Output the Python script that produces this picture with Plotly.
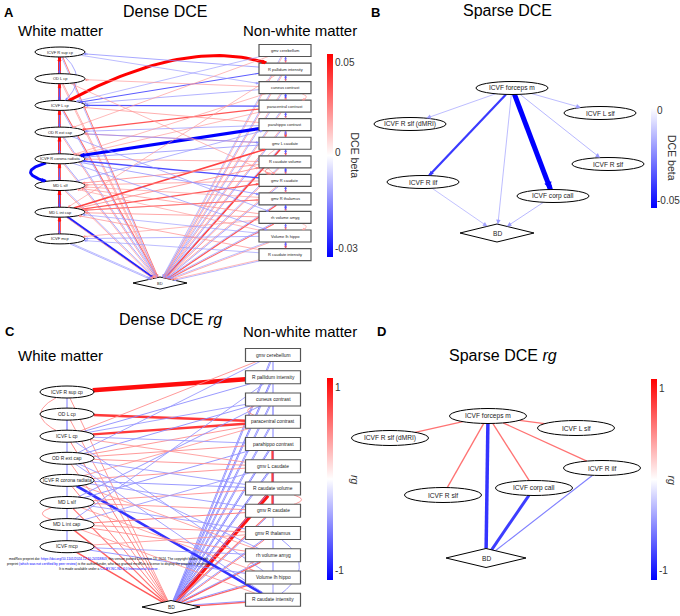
import math
import plotly.graph_objects as go

FIG_W, FIG_H = 680, 616

# ======================= DATA =======================
wm_nodes = ["ICVF R sup cp", "OD L cp", "ICVF L cp", "OD R ext cap",
            "ICVF R corona radiata", "MD L slf", "MD L int cap", "ICVF mcp"]
nwm_nodes = ["gmv cerebellum", "R pallidum intensity", "cuneus contrast",
             "paracentral contrast", "parahippo contrast", "gmv L caudate",
             "R caudate volume", "gmv R caudate", "gmv R thalamus",
             "rh volume amyg", "Volume lh hippo", "R caudate intensity"]
outcome_node = "BD"
sparse_nodes = ["ICVF forceps m", "ICVF R slf (dMRI)", "ICVF L slf",
                "ICVF R slf", "ICVF R ilf", "ICVF corp call"]

# colour-bar tick labels
cbar_ticks_dense_dce = ["0.05", "0", "-0.03"]
cbar_ticks_sparse_dce = ["0", "-0.05"]
cbar_ticks_rg = ["1", "-1"]

# ---- Panel A: Dense DCE (directed, DCE beta) ----
dce_wm_chain_up_beta = [0.052, 0.050, 0.050, 0.052, 0.050, 0.052, 0.050]
dce_wm_chain_down_beta = [-0.020, -0.022, -0.020, -0.018, -0.020, -0.022, -0.020]
dce_nwm_chain_down_beta = [0.030, 0.028, 0.030, 0.026, 0.040, 0.034, 0.030, 0.028, 0.026, 0.030, 0.036]
dce_nwm_chain_up_beta = [-0.018, -0.020, -0.022, -0.020, -0.018, -0.020, -0.022, -0.020, -0.022, -0.018, -0.020]
dce_wm_to_bd_beta = [0.030, 0.024, 0.032, -0.014, -0.015, -0.014, -0.028, -0.013]
dce_wm_to_bd_beta_2 = [-0.013, 0.022, -0.014, 0.024, 0.022, 0.024, 0.022, -0.014]
dce_nwm_to_bd_beta = [0.022, 0.024, -0.014, 0.024, -0.015, 0.040, 0.026, -0.015, 0.036, 0.032, 0.024, -0.014]
dce_nwm_to_bd_beta_2 = [-0.013, -0.014, 0.022, -0.014, 0.024, -0.013, -0.014, 0.024, -0.013, -0.014, -0.013, 0.022]

dce_cross_from = [
    "ICVF L cp", "R pallidum intensity", "R pallidum intensity", "paracentral contrast",
    "paracentral contrast", "parahippo contrast", "gmv R caudate", "MD L int cap",
    "MD L int cap", "MD L int cap", "MD L int cap", "cuneus contrast",
    "gmv cerebellum", "cuneus contrast", "parahippo contrast", "gmv L caudate",
    "R caudate volume", "gmv R thalamus", "rh volume amyg", "Volume lh hippo",
    "R caudate intensity", "gmv R caudate", "gmv R thalamus", "rh volume amyg",
    "paracentral contrast", "parahippo contrast", "gmv L caudate", "R caudate volume",
    "rh volume amyg", "Volume lh hippo", "cuneus contrast", "MD L slf",
    "OD R ext cap", "OD L cp", "ICVF R corona radiata", "OD R ext cap",
    "ICVF R corona radiata", "ICVF R sup cp", "gmv cerebellum", "R pallidum intensity",
    "Volume lh hippo", "R caudate intensity"]
dce_cross_to = [
    "R pallidum intensity", "ICVF L cp", "ICVF R sup cp", "ICVF L cp",
    "OD R ext cap", "ICVF R corona radiata", "ICVF R corona radiata", "gmv L caudate",
    "gmv R caudate", "R caudate volume", "gmv R thalamus", "ICVF L cp",
    "ICVF L cp", "OD L cp", "ICVF L cp", "OD R ext cap",
    "MD L slf", "MD L int cap", "MD L int cap", "ICVF mcp",
    "ICVF mcp", "MD L slf", "MD L slf", "MD L slf",
    "ICVF R corona radiata", "OD R ext cap", "ICVF R corona radiata", "ICVF R corona radiata",
    "ICVF mcp", "MD L int cap", "ICVF R corona radiata", "parahippo contrast",
    "gmv L caudate", "gmv R caudate", "gmv R thalamus", "rh volume amyg",
    "Volume lh hippo", "cuneus contrast", "OD R ext cap", "MD L int cap",
    "MD L slf", "MD L int cap"]
dce_cross_beta = [
    0.054, -0.021, -0.015, -0.022,
    0.036, -0.033, -0.023, 0.040,
    0.036, 0.026, 0.024, -0.014,
    -0.013, 0.022, 0.024, 0.024,
    0.026, 0.030, 0.025, -0.014,
    -0.013, 0.024, 0.022, 0.024,
    0.022, -0.014, -0.015, 0.024,
    0.022, -0.013, 0.022, -0.014,
    -0.015, 0.022, -0.015, -0.014,
    -0.014, -0.013, 0.022, 0.022,
    0.022, 0.024]

dce_loop_from = ["ICVF R corona radiata", "ICVF R sup cp", "cuneus contrast",
                 "R caudate volume", "rh volume amyg", "gmv L caudate"]
dce_loop_to = ["MD L slf", "ICVF L cp", "paracentral contrast",
               "gmv R caudate", "Volume lh hippo", "gmv R caudate"]
dce_loop_beta = [-0.032, -0.015, 0.022, 0.026, 0.020, 0.022]

# ---- Panel B: Sparse DCE (directed, DCE beta) ----
sdce_from = ["ICVF forceps m", "ICVF forceps m", "ICVF forceps m", "ICVF forceps m",
             "ICVF forceps m", "ICVF forceps m", "ICVF R ilf", "ICVF corp call"]
sdce_to = ["ICVF R slf (dMRI)", "ICVF L slf", "ICVF R slf", "ICVF R ilf",
           "ICVF corp call", "BD", "BD", "BD"]
sdce_beta = [-0.020, -0.020, -0.021, -0.041, -0.053, -0.020, -0.019, -0.021]

# ---- Panel C: Dense DCE rg (undirected) ----
rg_wm_chain = [-0.50, -0.55, -0.50, -0.50, -0.50, -0.50, -0.50]
rg_nwm_chain = [-0.50, -0.50, -0.55, -0.50, -0.45, -0.50, -0.50, -0.45, -0.50, -0.50, -0.45]
rg_wm_bd = [0.45, 0.45, 0.50, 0.45, 0.50, 0.55, 0.62, 0.65]
rg_nwm_bd = [-0.45, -0.45, -0.45, -0.45, -0.50, -0.45, 0.92, -0.45, 0.50, 0.62, 0.60, 0.60]
rg_nwm_bd_2 = [-0.45, -0.50, -0.45, -0.45, -0.45, -0.50, -0.45, 0.55, -0.45, -0.45, -0.45, -0.45]

rg_cross_a = [
    "ICVF R sup cp", "OD L cp", "ICVF L cp", "ICVF R corona radiata",
    "gmv cerebellum", "R pallidum intensity", "cuneus contrast", "cuneus contrast",
    "paracentral contrast", "paracentral contrast", "parahippo contrast", "parahippo contrast",
    "parahippo contrast", "gmv L caudate", "gmv L caudate", "gmv L caudate",
    "R caudate volume", "R caudate volume", "R caudate volume", "gmv R caudate",
    "gmv R caudate", "gmv R caudate", "gmv R thalamus", "gmv R thalamus",
    "gmv R thalamus", "rh volume amyg", "rh volume amyg", "rh volume amyg",
    "Volume lh hippo", "Volume lh hippo", "R caudate intensity", "R caudate intensity",
    "cuneus contrast", "R pallidum intensity", "gmv cerebellum", "Volume lh hippo",
    "gmv L caudate", "rh volume amyg"]
rg_cross_b = [
    "R pallidum intensity", "paracentral contrast", "paracentral contrast", "R caudate intensity",
    "ICVF L cp", "ICVF L cp", "ICVF L cp", "OD R ext cap",
    "OD R ext cap", "ICVF R corona radiata", "ICVF L cp", "OD R ext cap",
    "MD L slf", "OD R ext cap", "ICVF R corona radiata", "MD L int cap",
    "ICVF R corona radiata", "MD L slf", "OD R ext cap", "MD L slf",
    "MD L int cap", "ICVF R corona radiata", "MD L int cap", "MD L slf",
    "ICVF mcp", "MD L int cap", "ICVF mcp", "ICVF R corona radiata",
    "ICVF mcp", "MD L slf", "MD L int cap", "OD R ext cap",
    "MD L slf", "MD L int cap", "OD R ext cap", "ICVF L cp",
    "ICVF L cp", "OD R ext cap"]
rg_cross_rg = [
    0.95, 0.78, 0.78, -0.80,
    0.45, -0.45, -0.42, -0.45,
    0.45, 0.42, -0.42, 0.45,
    -0.45, 0.45, 0.45, -0.42,
    -0.45, 0.45, -0.42, 0.45,
    0.50, -0.42, 0.45, -0.42,
    0.42, 0.45, -0.42, 0.42,
    -0.45, 0.42, 0.42, -0.42,
    -0.45, -0.42, -0.42, -0.42,
    0.42, -0.42]

rg_loop_a = ["ICVF R sup cp", "MD L slf", "cuneus contrast", "R caudate volume",
             "rh volume amyg", "gmv R thalamus", "parahippo contrast", "gmv L caudate",
             "R caudate volume"]
rg_loop_b = ["ICVF L cp", "MD L int cap", "paracentral contrast", "gmv R caudate",
             "Volume lh hippo", "R caudate intensity", "gmv L caudate", "R caudate volume",
             "gmv R caudate"]
rg_loop_rg = [0.45, 0.45, 0.45, 0.45, 0.45, -0.45, 0.75, 0.75, 0.75]

# ---- Panel D: Sparse DCE rg (undirected) ----
srg_a = ["ICVF forceps m", "ICVF forceps m", "ICVF forceps m", "ICVF forceps m",
         "ICVF forceps m", "ICVF forceps m", "ICVF corp call", "ICVF R ilf"]
srg_b = ["ICVF R slf (dMRI)", "ICVF L slf", "ICVF R ilf", "ICVF R slf",
         "ICVF corp call", "BD", "BD", "BD"]
srg_rg = [0.55, 0.55, 0.55, 0.55, 0.55, -0.80, -0.76, -0.50]

# ======================= LAYOUT / STYLE =======================
FONT = "Liberation Sans, Arial, sans-serif"
traces, shapes, annotations = [], [], []


def color_of(t):
    t = max(-1.0, min(1.0, t))
    if t >= 0:
        g = round(255 * (1 - t))
        return f"rgb(255,{g},{g})"
    r = round(255 * (1 + t))
    return f"rgb({r},{r},255)"


def clip(node, dx, dy):
    x, y, kind, w, h = node
    L = math.hypot(dx, dy) or 1.0
    ux, uy = dx / L, dy / L
    a, b = w / 2, h / 2
    if kind == "ellipse":
        t = 1 / math.sqrt((ux / a) ** 2 + (uy / b) ** 2)
    elif kind == "rect":
        t = min(a / abs(ux) if ux else 1e9, b / abs(uy) if uy else 1e9)
    else:
        t = 1 / (abs(ux) / a + abs(uy) / b)
    return x + ux * t, y + uy * t


def draw_panel(nodes, edges, norm, wmin, wmax, power, directed, head, fsize,
               rect_line="#555555", par_gap=1.1):
    groups = {}
    for i, (a, b, v, bend) in enumerate(edges):
        if bend == (0, 0):
            groups.setdefault(tuple(sorted((a, b))), []).append(i)
    offsets = {}
    for key, idxs in groups.items():
        n = len(idxs)
        for k, i in enumerate(idxs):
            offsets[i] = (k - (n - 1) / 2) * par_gap
    for i, (a, b, v, bend) in enumerate(edges):
        t = norm(v)
        col = color_of(t)
        wid = wmin + (wmax - wmin) * abs(t) ** power
        na, nb = nodes[a], nodes[b]
        xa, ya, xb, yb = na[0], na[1], nb[0], nb[1]
        if bend != (0, 0):
            cx = (xa + xb) / 2 + bend[0]
            cy = (ya + yb) / 2 + bend[1]
            sx, sy = clip(na, cx - xa, cy - ya)
            ex, ey = clip(nb, cx - xb, cy - yb)
            ss = [k / 40 for k in range(41)]
            xs = [(1 - s) ** 2 * sx + 2 * (1 - s) * s * cx + s * s * ex for s in ss]
            ys = [(1 - s) ** 2 * sy + 2 * (1 - s) * s * cy + s * s * ey for s in ss]
        else:
            sx, sy = clip(na, xb - xa, yb - ya)
            ex, ey = clip(nb, xa - xb, ya - yb)
            L = math.hypot(ex - sx, ey - sy) or 1.0
            nx, ny = -(ey - sy) / L, (ex - sx) / L
            o = offsets[i]
            xs = [sx + nx * o, ex + nx * o]
            ys = [sy + ny * o, ey + ny * o]
        traces.append(go.Scatter(x=xs, y=ys, mode="lines",
                                 line=dict(color=col, width=wid),
                                 hoverinfo="skip", showlegend=False))
        if directed:
            tx, ty = xs[-1], ys[-1]
            px, py = xs[-2], ys[-2]
            d = math.hypot(tx - px, ty - py) or 1.0
            ux, uy = (tx - px) / d, (ty - py) / d
            annotations.append(dict(
                x=tx, y=ty, ax=tx - ux * 6, ay=ty - uy * 6,
                xref="x", yref="y", axref="x", ayref="y", text="",
                showarrow=True, arrowhead=2, arrowsize=max(0.3, head / wid),
                arrowwidth=wid, arrowcolor=col, standoff=0))
    for name, (x, y, kind, w, h) in nodes.items():
        if kind == "ellipse":
            shapes.append(dict(type="circle", xref="x", yref="y",
                               x0=x - w / 2, x1=x + w / 2, y0=y - h / 2, y1=y + h / 2,
                               line=dict(color="black", width=1),
                               fillcolor="white", layer="above"))
        elif kind == "rect":
            shapes.append(dict(type="rect", xref="x", yref="y",
                               x0=x - w / 2, x1=x + w / 2, y0=y - h / 2, y1=y + h / 2,
                               line=dict(color=rect_line, width=1.2),
                               fillcolor="white", layer="above"))
        else:
            shapes.append(dict(type="path", xref="x", yref="y",
                               path=f"M {x - w / 2},{y} L {x},{y - h / 2} L {x + w / 2},{y} L {x},{y + h / 2} Z",
                               line=dict(color="black", width=1),
                               fillcolor="white", layer="above"))
        annotations.append(dict(x=x, y=y, xref="x", yref="y", text=name,
                                showarrow=False, font=dict(size=fsize, color="#222", family=FONT)))


def dense_nodes(x_wm, y_wm0, dy_wm, ew, eh, x_n, y_n0, dy_n, rw, rh, bd_xy, bw, bh):
    nodes = {}
    for i, n in enumerate(wm_nodes):
        nodes[n] = (x_wm, y_wm0 + i * dy_wm, "ellipse", ew, eh)
    for j, n in enumerate(nwm_nodes):
        nodes[n] = (x_n, y_n0 + j * dy_n, "rect", rw, rh)
    nodes[outcome_node] = (bd_xy[0], bd_xy[1], "diamond", bw, bh)
    return nodes


# ---------- Panel A ----------
nodesA = dense_nodes(60, 52, 26.7, 50, 10, 285, 50.5, 18.55, 52, 12, (160, 283), 54, 12)
edgesA = []
for i, v in enumerate(dce_wm_chain_up_beta):
    edgesA.append((wm_nodes[i + 1], wm_nodes[i], v, (0, 0)))
for i, v in enumerate(dce_wm_chain_down_beta):
    edgesA.append((wm_nodes[i], wm_nodes[i + 1], v, (0, 0)))
for i, v in enumerate(dce_nwm_chain_down_beta):
    edgesA.append((nwm_nodes[i], nwm_nodes[i + 1], v, (0, 0)))
for i, v in enumerate(dce_nwm_chain_up_beta):
    edgesA.append((nwm_nodes[i + 1], nwm_nodes[i], v, (0, 0)))
for i, v in enumerate(dce_wm_to_bd_beta):
    edgesA.append((wm_nodes[i], outcome_node, v, (0, 0)))
for i, v in enumerate(dce_wm_to_bd_beta_2):
    edgesA.append((wm_nodes[i], outcome_node, v, (0, 0)))
for i, v in enumerate(dce_nwm_to_bd_beta):
    edgesA.append((nwm_nodes[i], outcome_node, v, (0, 0)))
for i, v in enumerate(dce_nwm_to_bd_beta_2):
    edgesA.append((nwm_nodes[i], outcome_node, v, (0, 0)))
cross_bend_A = {0: (14, -50)}
for k, (a, b, v) in enumerate(zip(dce_cross_from, dce_cross_to, dce_cross_beta)):
    edgesA.append((a, b, v, cross_bend_A.get(k, (0, 0))))
loop_bend_A = [(-45, 0), (28, 0), (26, 0), (-24, 0), (26, 0), (-30, 0)]
for k, (a, b, v) in enumerate(zip(dce_loop_from, dce_loop_to, dce_loop_beta)):
    edgesA.append((a, b, v, loop_bend_A[k]))
draw_panel(nodesA, edgesA,
           lambda v: v / 0.054 if v >= 0 else v / 0.0326,
           0.5, 3.0, 3, True, 0.55, 4.0)

# ---------- Panel B ----------
posB = {"ICVF forceps m": (512, 88), "ICVF R slf (dMRI)": (410, 124),
        "ICVF L slf": (600, 113), "ICVF R slf": (608, 164),
        "ICVF R ilf": (423, 182), "ICVF corp call": (553, 196)}
nodesB = {n: (posB[n][0], posB[n][1], "ellipse", 72, 13) for n in sparse_nodes}
nodesB[outcome_node] = (497, 233, "diamond", 74, 18)
edgesB = [(a, b, v, (0, 0)) for a, b, v in zip(sdce_from, sdce_to, sdce_beta)]
draw_panel(nodesB, edgesB, lambda v: v / 0.053, 0.6, 5.0, 4, True, 0.9, 6.6)

# ---------- Panel C ----------
nodesC = dense_nodes(67, 392, 22.1, 54, 12, 273, 355, 22.25, 55, 13, (171, 607), 58, 13)
edgesC = []
for i, v in enumerate(rg_wm_chain):
    edgesC.append((wm_nodes[i], wm_nodes[i + 1], v, (0, 0)))
for i, v in enumerate(rg_nwm_chain):
    edgesC.append((nwm_nodes[i], nwm_nodes[i + 1], v, (0, 0)))
for i, v in enumerate(rg_wm_bd):
    edgesC.append((wm_nodes[i], outcome_node, v, (0, 0)))
for i, v in enumerate(rg_nwm_bd):
    edgesC.append((nwm_nodes[i], outcome_node, v, (0, 0)))
for i, v in enumerate(rg_nwm_bd_2):
    edgesC.append((nwm_nodes[i], outcome_node, v, (0, 0)))
for a, b, v in zip(rg_cross_a, rg_cross_b, rg_cross_rg):
    edgesC.append((a, b, v, (0, 0)))
loop_bend_C = [(-42, 0), (-34, 0), (-32, 0), (36, 0), (-32, 0), (44, 0), (0, 0), (0, 0), (0, 0)]
for k, (a, b, v) in enumerate(zip(rg_loop_a, rg_loop_b, rg_loop_rg)):
    edgesC.append((a, b, v, loop_bend_C[k]))
draw_panel(nodesC, edgesC, lambda v: v, 0.7, 5.4, 4, False, 1.0, 4.9)

# ---------- Panel D ----------
posD = {"ICVF forceps m": (488, 416), "ICVF R slf (dMRI)": (390, 438),
        "ICVF L slf": (576, 428), "ICVF R slf": (443, 495),
        "ICVF R ilf": (602, 468), "ICVF corp call": (534, 488)}
nodesD = {n: (posD[n][0], posD[n][1], "ellipse", 77, 15) for n in sparse_nodes}
nodesD[outcome_node] = (486, 558, "diamond", 80, 19)
edgesD = [(a, b, v, (0, 0)) for a, b, v in zip(srg_a, srg_b, srg_rg)]
draw_panel(nodesD, edgesD, lambda v: v, 0.7, 7.5, 4, False, 1.0, 6.6)


# ---------- colorbars (bar by plotly, labels as text) ----------
def colorbar(cs, cmin, cmax, x_left, y_top, y_bot, tickvals, ticktext, title, title_x,
             lab_dx=7):
    traces.append(go.Scatter(
        x=[-100], y=[-100], mode="markers", hoverinfo="skip", showlegend=False,
        marker=dict(color=[cmin], colorscale=cs, cmin=cmin, cmax=cmax, showscale=True,
                    colorbar=dict(x=x_left / FIG_W, xanchor="left",
                                  y=1 - (y_top + y_bot) / 2 / FIG_H, yanchor="middle",
                                  len=(y_bot - y_top) / FIG_H, lenmode="fraction",
                                  thickness=6, outlinewidth=0, xpad=0, ypad=0,
                                  ticks="", showticklabels=False))))
    for v, s in zip(tickvals, ticktext):
        yy = y_bot - (v - cmin) / (cmax - cmin) * (y_bot - y_top)
        annotations.append(dict(x=x_left + lab_dx, y=yy, xref="x", yref="y", text=s,
                                showarrow=False, xanchor="left", borderpad=0,
                                font=dict(size=10, family=FONT, color="#333")))
    annotations.append(dict(x=title_x, y=(y_top + y_bot) / 2, xref="x", yref="y",
                            text=title, showarrow=False, textangle=90,
                            font=dict(size=10.5, family=FONT, color="#333")))


div_cs = [[0, "rgb(0,0,255)"], [0.5, "rgb(255,255,255)"], [1, "rgb(255,0,0)"]]
colorbar(div_cs, -1, 1, 327, 54, 257, [0.92, 0.03, -0.92], cbar_ticks_dense_dce,
         "DCE beta", 355)
colorbar([[0, "rgb(0,0,255)"], [1, "rgb(255,255,255)"]], -1, 0, 651, 108, 208,
         [-0.02, -0.92], cbar_ticks_sparse_dce, "DCE beta", 672, lab_dx=5)
colorbar(div_cs, -1.1, 1.1, 327, 378, 580, [1, -1], cbar_ticks_rg, "<i>rg</i>", 355)
colorbar(div_cs, -1.1, 1.1, 651, 379, 580, [1, -1], cbar_ticks_rg, "<i>rg</i>", 672)


# ---------- titles ----------
def txt(x, y, s, size, bold=False, anchor="center"):
    annotations.append(dict(x=x, y=y, xref="x", yref="y", text=f"<b>{s}</b>" if bold else s,
                            showarrow=False, xanchor=anchor,
                            font=dict(size=size, family=FONT, color="black")))


txt(2, 12, "A", 13, True, "left")
txt(165, 11, "Dense DCE", 16)
txt(60, 30, "White matter", 15)
txt(300, 30, "Non-white matter", 15)
txt(369, 12, "B", 13, True, "left")
txt(507, 10, "Sparse DCE", 16)
txt(3, 331, "C", 13, True, "left")
txt(170, 319, "Dense DCE <i>rg</i>", 16)
txt(300, 331, "Non-white matter", 15)
txt(60, 355, "White matter", 15)
txt(375, 331, "D", 13, True, "left")
txt(503, 355, "Sparse DCE <i>rg</i>", 16)

wm_lines = [
    ("medRxiv preprint doi: <span style='color:#00f'>https://doi.org/10.1101/2024.12.10.24318803</span>; this version posted December 13, 2024. The copyright holder for this", 109, 559),
    ("preprint <span style='color:#00f'>(which was not certified by peer review)</span> is the author/funder, who has granted medRxiv a license to display the preprint in perpetuity.", 109, 563.5),
    ("It is made available under a <span style='color:#00f'>CC-BY-NC-ND 4.0 International license</span> .", 109, 569),
]
for s, x, y in wm_lines:
    annotations.append(dict(x=x, y=y, xref="x", yref="y", text=s, showarrow=False,
                            font=dict(size=3.3, family=FONT, color="black")))

fig = go.Figure(data=traces)
fig.update_layout(
    width=FIG_W, height=FIG_H, margin=dict(l=0, r=0, t=0, b=0),
    paper_bgcolor="white", plot_bgcolor="white", showlegend=False,
    xaxis=dict(range=[0, FIG_W], visible=False, fixedrange=True),
    yaxis=dict(range=[FIG_H, 0], visible=False, fixedrange=True),
    shapes=shapes, annotations=annotations,
)
fig.write_html("out.html", config={"displayModeBar": False},
               post_script="document.body.style.margin='0';document.body.style.overflow='hidden';")
